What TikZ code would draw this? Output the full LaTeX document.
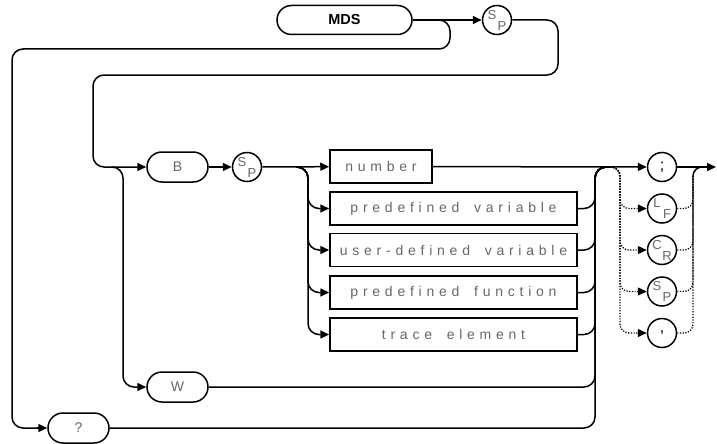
\documentclass[tikz,border=0pt]{standalone}
\usepackage{fontspec}
\setmainfont{Liberation Sans}
\newfontfamily\lblfont[LetterSpace=34,WordSpace=1.7]{Liberation Sans}
\usetikzlibrary{arrows.meta}
\definecolor{lblgray}{gray}{0.4}
\begin{document}
\begin{tikzpicture}[x=1pt,y=-1pt,line width=1.5pt,
  lbl/.style={font=\lblfont\fontsize{14}{14}\selectfont, text=lblgray},
  term/.style={draw, rounded corners=15pt, minimum width=61pt, minimum height=30pt, inner sep=0pt, lbl},
  stmt/.style={draw, rounded corners=14.5pt, minimum width=135pt, minimum height=29pt, inner sep=0pt, font=\bfseries\fontsize{14.5}{14.5}\selectfont},
  box/.style={draw, rectangle, minimum height=33pt, inner sep=0pt, lbl},
  circ/.style={draw, circle, minimum size=29pt, inner sep=0pt, font=\fontsize{16}{16}\selectfont},
  sub/.style={inner sep=0pt, font=\fontsize{13}{13}\selectfont, text=lblgray},
  arr/.style={-{Triangle[length=9pt,width=8pt]}},
  rail/.style={rounded corners=11pt},
  opt/.style={dash pattern=on 1.2pt off 1.5pt, line width=1.3pt, rounded corners=9pt}]
\useasboundingbox (0,0) rectangle (717,444);

% nodes
\node[stmt] (mds) at (344.5,20) {MDS};
\node[circ] (sp1) at (497,20) {};
\node[sub,xshift=-5pt,yshift=5pt] (sp1s) at (sp1) {S};
\node[sub,xshift=5pt,yshift=-6pt] (sp1p) at (sp1) {P};

\node[term] (b) at (177.5,167) {B};
\node[circ] (sp2) at (247,167) {};
\node[sub,xshift=-5pt,yshift=5pt] (sp2s) at (sp2) {S};
\node[sub,xshift=5pt,yshift=-6pt] (sp2p) at (sp2) {P};

\node[box, minimum width=102pt] (num) at (381,166.5) {number};
\node[box, minimum width=247pt] (pv) at (453.5,208.5) {predefined variable};
\node[box, minimum width=247pt] (ud) at (453.5,250) {user-defined variable};
\node[box, minimum width=247pt] (pf) at (453.5,292.5) {predefined function};
\node[box, minimum width=247pt] (te) at (453.5,334.5) {trace element};

\node[term] (w) at (177.5,387) {W};
\node[term] (q) at (78.5,428) {?};

\node[circ] (semi) at (662,167) {;};
\node[circ] (lf) at (662,208.5) {};
\node[sub,xshift=-5pt,yshift=5pt] (lfl) at (lf) {L};
\node[sub,xshift=5pt,yshift=-6pt] (lff) at (lf) {F};
\node[circ] (cr) at (662,250) {};
\node[sub,xshift=-5pt,yshift=5pt] (crc) at (cr) {C};
\node[sub,xshift=5pt,yshift=-6pt] (crr) at (cr) {R};
\node[circ] (sp3) at (662,291.5) {};
\node[sub,xshift=-5pt,yshift=5pt] (sp3s) at (sp3) {S};
\node[sub,xshift=5pt,yshift=-6pt] (sp3p) at (sp3) {P};
\node[circ] (comma) at (662,333) {,};

\coordinate (endpt) at (716,167);
\coordinate (qbr) at (436,20);
\coordinate (wbr) at (111,167);
\coordinate (sbr) at (296,167);
\coordinate (mrg) at (612,167);
\coordinate (obr) at (608,167);
\coordinate (omg) at (706,167);

% top rail
\draw[arr] (mds) -- (sp1);
\draw[rail] (qbr) -- (450,20) -- (450,49) -- (12,49) -- (12,428) -- ([xshift=-9pt]q.west);
\draw[arr] ([xshift=-10pt]q.west) -- (q.west);
\draw[rail,arr] (sp1) -- (558,20) -- (558,75) -- (93,75) -- (93,167) -- (b);
\draw[rail,arr] (wbr) -- (123,167) -- (123,387) -- (w);
\draw[arr] (b) -- (sp2);

% branch into boxes
\draw[arr] (sp2) -- (num);
\draw[rail,arr] (sbr) -- (308,167) -- (308,208.5) -- (pv);
\draw[rail,arr] (sbr) -- (308,167) -- (308,250) -- (ud);
\draw[rail,arr] (sbr) -- (308,167) -- (308,292.5) -- (pf);
\draw[rail,arr] (sbr) -- (308,167) -- (308,334.5) -- (te);

% merge
\draw[rail] (pv) -- (595,208.5) -- (595,167) -- (mrg);
\draw[rail] (ud) -- (595,250) -- (595,167) -- (mrg);
\draw[rail] (pf) -- (595,292.5) -- (595,167) -- (mrg);
\draw[rail] (te) -- (595,334.5) -- (595,167) -- (mrg);
\draw[rail] (w) -- (595,387) -- (595,167) -- (mrg);
\draw[rail] (q) -- (595,428) -- (595,167) -- (mrg);

% terminators
\draw[arr] (num) -- (semi);
\draw[arr] (semi) -- (endpt);
\foreach \n in {lf,cr,sp3,comma}{
  \draw[opt,arr] (obr) -- (620,167) -- (620,0|-\n) -- (\n);
  \draw[opt] (\n) -- (693,0|-\n) -- (693,167) -- (omg);
}
\end{tikzpicture}
\end{document}
